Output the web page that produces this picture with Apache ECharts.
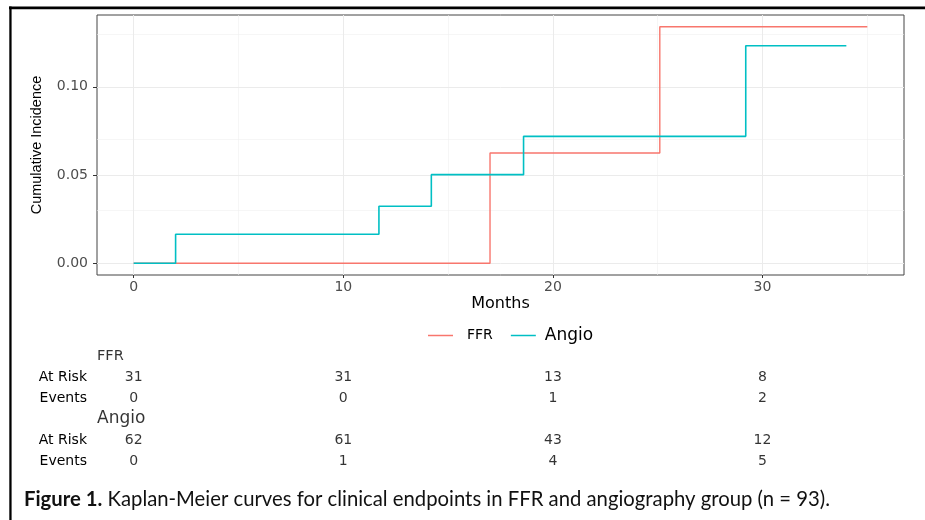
<!DOCTYPE html>
<html>
<head>
<meta charset="utf-8">
<title>Kaplan-Meier curves</title>
<script src="https://cdn.jsdelivr.net/npm/echarts@6/dist/echarts.min.js"></script>
<style>
  html, body { margin: 0; padding: 0; background: #fff; }
  #main { width: 925px; height: 520px; }
</style>
</head>
<body>
<div id="main"></div>
<script>
// step curves (time in months, cumulative incidence)
var ffrTimes = [0, 17, 25.1, 35];
var ffrCumInc = [0, 0.0625, 0.134, 0.134];
var angioTimes = [0, 2, 11.7, 14.2, 18.6, 29.2, 34];
var angioCumInc = [0, 0.0164, 0.0323, 0.0502, 0.0719, 0.1233, 0.1233];

// axes
var xTicks = [0, 10, 20, 30];
var xMinor = [5, 15, 25, 35];
var yTicks = [0, 0.05, 0.10];
var yMinor = [0.025, 0.075, 0.125];

// risk table
var riskTimes = [0, 10, 20, 30];
var ffrAtRisk = [31, 31, 13, 8];
var ffrEvents = [0, 0, 1, 2];
var angioAtRisk = [62, 61, 43, 12];
var angioEvents = [0, 1, 4, 5];
var tableRows = ['FFR', 'At Risk', 'Events', 'Angio', 'At Risk', 'Events'];

var xMin = -1.75, xMax = 36.75;
var colFFR = '#F8766D', colAngio = '#00BFC4';
var wide = 'DejaVu Sans';

function pairs(xs, ys) {
    var out = [];
    for (var i = 0; i < xs.length; i++) out.push([xs[i], ys[i]]);
    return out;
}

var minorStyle = { type: 'solid', width: 0.6, color: '#F0F0F0' };
var majorStyle = { type: 'solid', width: 1, color: '#EBEBEB' };
var gridLines = [];
xMinor.forEach(function (v) { gridLines.push({ xAxis: v, lineStyle: minorStyle }); });
yMinor.forEach(function (v) { gridLines.push({ yAxis: v, lineStyle: minorStyle }); });
xTicks.forEach(function (v) { gridLines.push({ xAxis: v, lineStyle: majorStyle }); });
yTicks.forEach(function (v) { gridLines.push({ yAxis: v, lineStyle: majorStyle }); });

var tableData = [];
riskTimes.forEach(function (t, i) {
    tableData.push([t, 1, ffrAtRisk[i]]);
    tableData.push([t, 2, ffrEvents[i]]);
    tableData.push([t, 4, angioAtRisk[i]]);
    tableData.push([t, 5, angioEvents[i]]);
});

var option = {
    animation: false,
    graphic: [
        { type: 'rect', shape: { x: 9, y: 6.5, width: 916, height: 2.8 }, style: { fill: '#000' } },
        { type: 'rect', shape: { x: 9.3, y: 6.5, width: 2.3, height: 514 }, style: { fill: '#000' } }
    ],
    title: {
        left: 24,
        top: 489,
        padding: 0,
        text: '{b|Figure 1.} Kaplan-Meier curves for clinical endpoints in FFR and angiography group (n = 93).',
        textStyle: {
            fontFamily: 'Lato', fontSize: 20.3, fontWeight: 'normal', color: '#111',
            rich: { b: { fontFamily: 'Lato', fontSize: 20.3, fontWeight: 'bold', color: '#111' } }
        }
    },
    legend: {
        left: 428,
        top: 327,
        padding: 0,
        icon: 'rect',
        itemWidth: 25,
        itemHeight: 1.5,
        itemGap: 18,
        data: ['FFR', 'Angio'],
        formatter: function (name) {
            return name === 'FFR' ? '{s|FFR}' : '{l|Angio}';
        },
        textStyle: {
            color: '#000',
            rich: {
                s: { fontFamily: wide, fontSize: 14, color: '#000', padding: [0, 0, 0, 9] },
                l: { fontFamily: wide, fontSize: 17, color: '#000', padding: [0, 0, 0, 4] }
            }
        }
    },
    grid: [
        { left: 97, top: 15, width: 807, height: 260, show: true, borderColor: '#444', borderWidth: 1, backgroundColor: '#fff' },
        { left: 97, top: 345.5, width: 807, height: 126 }
    ],
    xAxis: [
        {
            gridIndex: 0, type: 'value', min: xMin, max: xMax,
            name: 'Months', nameLocation: 'middle', nameGap: 21,
            nameTextStyle: { fontFamily: wide, fontSize: 16, color: '#000' },
            axisLine: { show: false, onZero: false },
            axisTick: { show: true, length: 3, lineStyle: { color: '#333' }, customValues: xTicks },
            axisLabel: { customValues: xTicks, fontFamily: wide, fontSize: 14, color: '#4D4D4D', margin: 5 },
            splitLine: { show: false }
        },
        { gridIndex: 1, type: 'value', min: xMin, max: xMax, show: false }
    ],
    yAxis: [
        {
            gridIndex: 0, type: 'value', min: -0.0067, max: 0.1407,
            name: 'Cumulative Incidence', nameLocation: 'middle', nameGap: 53, nameRotate: 90,
            nameTextStyle: { fontFamily: 'Liberation Sans', fontSize: 14.5, color: '#000' },
            axisLine: { show: false, onZero: false },
            axisTick: { show: true, length: 4, lineStyle: { color: '#333' }, customValues: yTicks },
            axisLabel: {
                customValues: yTicks, fontFamily: wide, fontSize: 14, color: '#4D4D4D', margin: 9,
                formatter: function (v) { return v.toFixed(2); }
            },
            splitLine: { show: false }
        },
        {
            gridIndex: 1, type: 'category', inverse: true, data: tableRows,
            axisLine: { show: false }, axisTick: { show: false }, splitLine: { show: false },
            axisLabel: {
                margin: 10, fontFamily: wide, fontSize: 14, color: '#000',
                formatter: function (v, i) { return (i === 0 || i === 3) ? '' : v; }
            }
        }
    ],
    series: [
        {
            name: 'grid', type: 'line', data: [], z: 1, silent: true,
            xAxisIndex: 0, yAxisIndex: 0,
            markLine: { z: 1, silent: true, symbol: 'none', label: { show: false }, animation: false, data: gridLines }
        },
        {
            name: 'FFR', type: 'line', step: 'end', symbol: 'none',
            xAxisIndex: 0, yAxisIndex: 0, z: 6,
            itemStyle: { color: colFFR },
            lineStyle: { color: colFFR, width: 1.4 },
            data: pairs(ffrTimes, ffrCumInc)
        },
        {
            name: 'Angio', type: 'line', step: 'end', symbol: 'none',
            xAxisIndex: 0, yAxisIndex: 0, z: 7,
            itemStyle: { color: colAngio },
            lineStyle: { color: colAngio, width: 1.6 },
            data: pairs(angioTimes, angioCumInc)
        },
        {
            name: 'table', type: 'scatter', xAxisIndex: 1, yAxisIndex: 1,
            symbolSize: 0, silent: true,
            label: {
                show: true, position: 'inside', fontFamily: wide, fontSize: 14, color: '#000',
                formatter: function (p) { return String(p.value[2]); }
            },
            data: tableData
        },
        {
            name: 'headers', type: 'scatter', xAxisIndex: 1, yAxisIndex: 1,
            symbolSize: 0, silent: true,
            label: {
                show: true, position: 'right', distance: 0, fontFamily: wide, color: '#000',
                formatter: function (p) { return p.value[2]; }
            },
            data: [
                { value: [xMin, 0, tableRows[0]], label: { fontSize: 14.5 } },
                { value: [xMin, 3, tableRows[3]], label: { fontSize: 17 } }
            ]
        }
    ]
};

var myChart = echarts.init(document.getElementById('main'));
myChart.setOption(option);
</script>
</body>
</html>
